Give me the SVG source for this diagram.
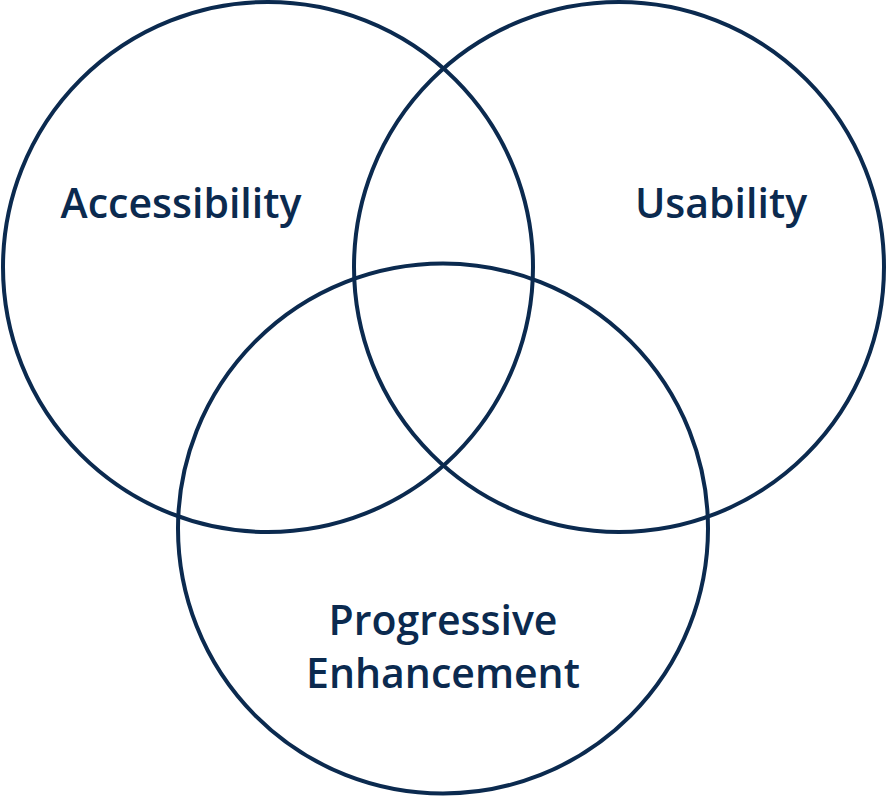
<svg xmlns="http://www.w3.org/2000/svg" width="888" height="796" viewBox="0 0 888 796">
  <style>
    .ring { fill: none; stroke: #0b2a4f; stroke-width: 4; }
    .label { font-family: "Open Sans", "Noto Sans", "Liberation Sans", sans-serif; font-weight: 600; font-size: 41px; fill: #0b2a4f; text-anchor: middle; }
  </style>
  <rect width="888" height="796" fill="#ffffff"/>
  <g id="accessibility">
    <circle class="ring" cx="268" cy="267" r="265"/>
    <text class="label" x="181" y="218">Accessibility</text>
  </g>
  <g id="usability">
    <circle class="ring" cx="619" cy="267" r="265"/>
    <text class="label" x="721" y="218">Usability</text>
  </g>
  <g id="progressive-enhancement">
    <circle class="ring" cx="443" cy="528.5" r="265"/>
    <text class="label" x="443" y="635">Progressive</text>
    <text class="label" x="443" y="688">Enhancement</text>
  </g>
  <g id="connectors"/>
</svg>
